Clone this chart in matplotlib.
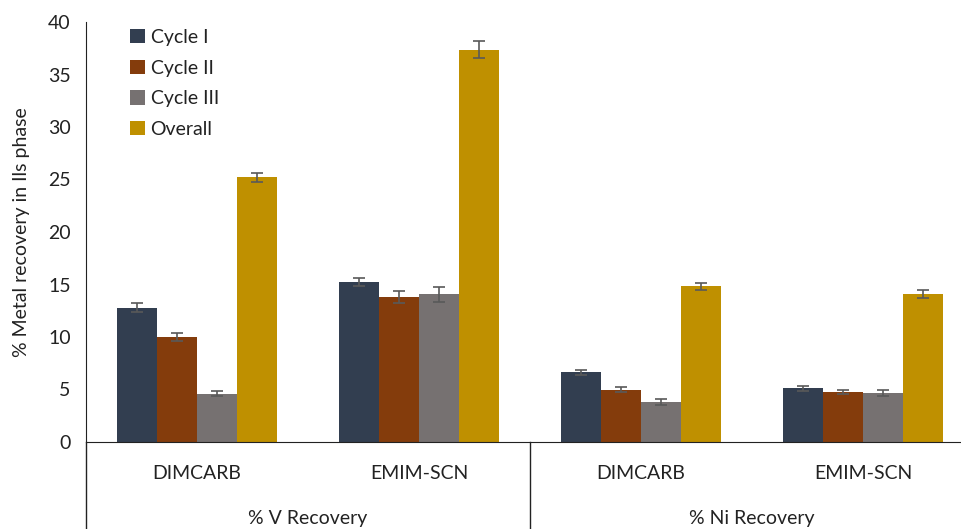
import numpy as np
import matplotlib.pyplot as plt

plt.rcParams['font.family'] = ['Lato', 'DejaVu Sans']

groups = ['% V Recovery', '% Ni Recovery']
solvents = ['DIMCARB', 'EMIM-SCN', 'DIMCARB', 'EMIM-SCN']
series = ['Cycle I', 'Cycle II', 'Cycle III', 'Overall']
colors = ['#323e50', '#843c0c', '#767171', '#bf9000']

cycle1 = [12.8, 15.25, 6.65, 5.1]
cycle2 = [10.0, 13.8, 5.0, 4.8]
cycle3 = [4.6, 14.05, 3.8, 4.7]
overall = [25.2, 37.35, 14.85, 14.1]

cycle1_err = [0.4, 0.35, 0.25, 0.2]
cycle2_err = [0.4, 0.55, 0.2, 0.2]
cycle3_err = [0.25, 0.75, 0.27, 0.3]
overall_err = [0.45, 0.8, 0.33, 0.35]

values = [cycle1, cycle2, cycle3, overall]
errors = [cycle1_err, cycle2_err, cycle3_err, overall_err]

fig = plt.figure(figsize=(9.62, 5.29), dpi=100)
ax = fig.add_axes([86/962, 1-442/529, 888/962, 420/529])

x = np.arange(len(solvents))
w = 0.181
for i in range(len(series)):
    ax.bar(x + (i - 1.5) * w, values[i], w, color=colors[i], label=series[i],
           yerr=errors[i], capsize=4.5,
           error_kw=dict(ecolor='#595959', elinewidth=1.2, capthick=1.2))

ax.set_xlim(-0.5, 3.5)
ax.set_ylim(0, 40)
ax.set_yticks(range(0, 41, 5))
ax.tick_params(axis='y', length=0, pad=11, labelsize=14, labelcolor='#222222')
ax.set_xticks([])
for s in ['top', 'right']:
    ax.spines[s].set_visible(False)
ax.spines['left'].set_color('#222222')
ax.spines['bottom'].set_color('#222222')
ax.set_ylabel('% Metal recovery in Ils phase', fontsize=14, labelpad=13, color='#222222')

trans = ax.get_xaxis_transform()
for i, s in enumerate(solvents):
    ax.text(x[i], -0.074, s, transform=trans, ha='center', va='center', fontsize=14,
            color='#222222')
for j, g in enumerate(groups):
    ax.text(0.5 + 2 * j, -0.181, g, transform=trans, ha='center', va='center', fontsize=14,
            color='#222222')
for xs in [-0.5, 1.5, 3.5]:
    ax.plot([xs, xs], [0, -0.22], transform=trans, color='#222222', lw=1, clip_on=False)

leg = ax.legend(loc='upper left', bbox_to_anchor=(0.03, 1.025), frameon=False, fontsize=14,
                handlelength=0.75, handleheight=0.75, handletextpad=0.3, labelspacing=0.7)
for t in leg.get_texts():
    t.set_color('#222222')

fig.savefig('out.png', dpi=100)
